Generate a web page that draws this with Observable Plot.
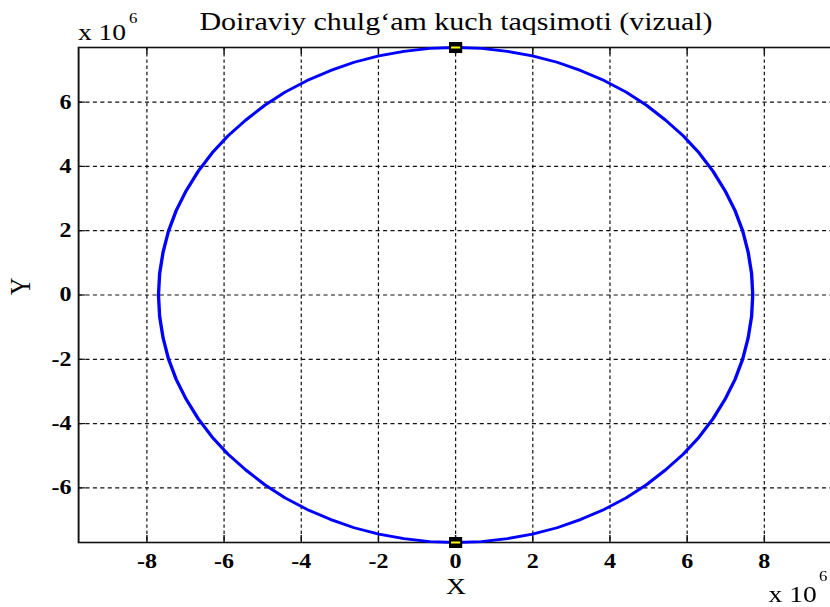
<!DOCTYPE html>
<html><head><meta charset="utf-8">
<script src="https://cdn.jsdelivr.net/npm/d3@7"></script>
<script src="https://cdn.jsdelivr.net/npm/@observablehq/plot@0.6"></script>
<style>
html,body{margin:0;padding:0;overflow:hidden;background:#fff;width:830px;height:607px}
#chart{transform:scaleX(1.2);transform-origin:0 0;width:694px;height:607px}
</style></head><body><div id="chart"></div>
<script>
// circle points (units of 10^6)
const circleX = [7.7, 7.67, 7.58, 7.44, 7.24, 6.98, 6.67, 6.31, 5.90, 5.44, 4.95, 4.42, 3.85, 3.25, 2.63, 1.99, 1.34, 0.67, 0,
  -0.67, -1.34, -1.99, -2.63, -3.25, -3.85, -4.42, -4.95, -5.44, -5.90, -6.31, -6.67, -6.98, -7.24, -7.44, -7.58, -7.67, -7.7,
  -7.67, -7.58, -7.44, -7.24, -6.98, -6.67, -6.31, -5.90, -5.44, -4.95, -4.42, -3.85, -3.25, -2.63, -1.99, -1.34, -0.67, 0,
  0.67, 1.34, 1.99, 2.63, 3.25, 3.85, 4.42, 4.95, 5.44, 5.90, 6.31, 6.67, 6.98, 7.24, 7.44, 7.58, 7.67, 7.7];
const circleY = [0, 0.67, 1.34, 1.99, 2.63, 3.25, 3.85, 4.42, 4.95, 5.44, 5.90, 6.31, 6.67, 6.98, 7.24, 7.44, 7.58, 7.67, 7.7,
  7.67, 7.58, 7.44, 7.24, 6.98, 6.67, 6.31, 5.90, 5.44, 4.95, 4.42, 3.85, 3.25, 2.63, 1.99, 1.34, 0.67, 0,
  -0.67, -1.34, -1.99, -2.63, -3.25, -3.85, -4.42, -4.95, -5.44, -5.90, -6.31, -6.67, -6.98, -7.24, -7.44, -7.58, -7.67, -7.7,
  -7.67, -7.58, -7.44, -7.24, -6.98, -6.67, -6.31, -5.90, -5.44, -4.95, -4.42, -3.85, -3.25, -2.63, -1.99, -1.34, -0.67, 0];
const markerX = [0, 0];
const markerY = [7.7, -7.7];
const xTicks = [-8, -6, -4, -2, 0, 2, 4, 6, 8];
const yTicks = [-6, -4, -2, 0, 2, 4, 6];
const titleText = "Doiraviy chulg\u2018am kuch taqsimoti (vizual)";
const xLabel = "X";
const yLabel = "Y";
const expBase = "x 10";
const expPow = "6";

const data = circleX.map((x, i) => ({x, y: circleY[i]}));
const markers = markerX.map((x, i) => ({x, y: markerY[i]}));
const font = "'Liberation Serif', 'Times New Roman', serif";
const hline = {draw(ctx, size) { const r = Math.sqrt(size / Math.PI); ctx.moveTo(-r, 0); ctx.lineTo(r, 0); }};

const W = 694, H = 607, ML = 65, MT = 47, MB = 65;
const pw = W - ML, ph = H - MT - MB;

const plot = Plot.plot({
  width: W, height: H,
  marginLeft: ML, marginRight: 0, marginTop: MT, marginBottom: MB,
  style: {fontFamily: font, fontSize: "18px", color: "black", background: "white", overflow: "visible"},
  x: {domain: [-9.77, 9.79]},
  y: {domain: [-7.7, 7.7]},
  marks: [
    Plot.gridX(xTicks, {stroke: "#111", strokeOpacity: 1, strokeWidth: 1, strokeDasharray: "3.4,2.8"}),
    Plot.gridY(yTicks, {stroke: "#111", strokeOpacity: 1, strokeWidth: 1.2, strokeDasharray: "3.4,2.8"}),
    Plot.ruleX(xTicks, {stroke: "#111", strokeWidth: 1.2, insetTop: ph - 7}),
    Plot.ruleX(xTicks, {stroke: "#111", strokeWidth: 1.2, insetBottom: ph - 7}),
    Plot.ruleY(yTicks, {stroke: "#111", strokeWidth: 1.2, insetRight: pw - 6}),
    Plot.axisX(xTicks, {anchor: "bottom", tickSize: 0, tickPadding: 11, fontSize: 20, fontWeight: "bold", label: null, tickFormat: d => String(d)}),
    Plot.axisY(yTicks, {anchor: "left", tickSize: 0, tickPadding: 6, fontSize: 20, fontWeight: "bold", label: null, tickFormat: d => String(d)}),
    Plot.frame({stroke: "#111", strokeWidth: 1.6}),
    Plot.line(data, {x: "x", y: "y", stroke: "#0000ff", strokeWidth: 2.8}),
    Plot.dot(markers, {x: "x", y: "y", symbol: "square", r: 6.2, fill: "black", stroke: "none"}),
    Plot.dot(markers, {x: "x", y: "y", symbol: hline, r: 3.8, stroke: "#ffff00", strokeWidth: 2, fill: "none"}),
    Plot.text([titleText], {frameAnchor: "top", text: d => d, dy: -25.5, fontSize: 25, lineAnchor: "middle"}),
    Plot.text([xLabel], {frameAnchor: "bottom", text: d => d, dy: 44.5, fontSize: 23, lineAnchor: "middle"}),
    Plot.text([yLabel], {frameAnchor: "left", text: d => d, dx: -48, rotate: -90, fontSize: 24, lineAnchor: "middle"}),
    Plot.text([expBase], {frameAnchor: "top-left", text: d => d, textAnchor: "start", dx: -0.6, dy: -14.4, fontSize: 23, lineAnchor: "middle"}),
    Plot.text([expPow], {frameAnchor: "top-left", text: d => d, textAnchor: "start", dx: 41.9, dy: -28.5, fontSize: 14, lineAnchor: "middle"}),
    Plot.text([expBase], {frameAnchor: "bottom-left", text: d => d, textAnchor: "start", dx: 575, dy: 52, fontSize: 23, lineAnchor: "middle"}),
    Plot.text([expPow], {frameAnchor: "bottom-left", text: d => d, textAnchor: "start", dx: 617, dy: 34, fontSize: 14, lineAnchor: "middle"})
  ]
});
document.getElementById("chart").appendChild(plot);
</script>
</body></html>
